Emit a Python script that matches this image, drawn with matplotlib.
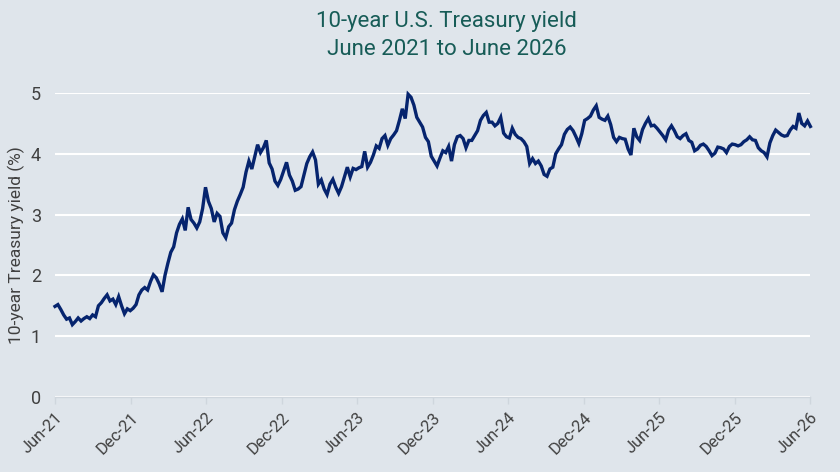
import pandas as pd
import matplotlib
matplotlib.use("Agg")
import matplotlib.pyplot as plt
import matplotlib.dates as mdates

# Weekly 10-year yield readings (%), starting 1 June 2021
start_date = "2021-06-01"
yields = [
    1.49, 1.52, 1.44, 1.35, 1.28, 1.30, 1.19, 1.24, 1.30, 1.25,
    1.29, 1.32, 1.29, 1.35, 1.32, 1.50, 1.55, 1.62, 1.68, 1.58,
    1.61, 1.52, 1.65, 1.50, 1.37, 1.45, 1.42, 1.46, 1.52, 1.68,
    1.76, 1.80, 1.76, 1.90, 2.01, 1.96, 1.86, 1.73, 2.00, 2.20,
    2.38, 2.47, 2.70, 2.84, 2.93, 2.74, 3.12, 2.92, 2.86, 2.78,
    2.88, 3.10, 3.45, 3.22, 3.10, 2.88, 3.02, 2.97, 2.70, 2.62,
    2.80, 2.86, 3.08, 3.22, 3.33, 3.45, 3.70, 3.88, 3.75, 3.95,
    4.15, 4.02, 4.10, 4.22, 3.85, 3.75, 3.55, 3.48, 3.58, 3.72,
    3.86, 3.65, 3.55, 3.40, 3.42, 3.46, 3.65, 3.84, 3.95, 4.03,
    3.90, 3.50, 3.57, 3.42, 3.33, 3.50, 3.58, 3.45, 3.35, 3.46,
    3.62, 3.78, 3.62, 3.76, 3.74, 3.77, 3.79, 4.04, 3.78, 3.86,
    3.98, 4.13, 4.09, 4.25, 4.30, 4.14, 4.25, 4.31, 4.38, 4.55,
    4.74, 4.58, 4.98, 4.93, 4.80, 4.60, 4.52, 4.44, 4.27, 4.20,
    3.96, 3.88, 3.80, 3.93, 4.05, 4.02, 4.12, 3.88, 4.15, 4.28,
    4.30, 4.25, 4.10, 4.22, 4.22, 4.30, 4.38, 4.55, 4.63, 4.68,
    4.52, 4.52, 4.46, 4.50, 4.60, 4.34, 4.28, 4.26, 4.42, 4.32,
    4.27, 4.25, 4.20, 4.12, 3.84, 3.92, 3.84, 3.88, 3.80, 3.66,
    3.63, 3.75, 3.78, 4.00, 4.08, 4.15, 4.32, 4.40, 4.44, 4.38,
    4.28, 4.17, 4.33, 4.55, 4.58, 4.62, 4.72, 4.79, 4.60, 4.57,
    4.55, 4.62, 4.48, 4.27, 4.20, 4.27, 4.25, 4.24, 4.08, 3.98,
    4.42, 4.28, 4.22, 4.40, 4.50, 4.58, 4.46, 4.47, 4.42, 4.36,
    4.30, 4.23, 4.39, 4.46, 4.38, 4.28, 4.25, 4.30, 4.33, 4.22,
    4.19, 4.05, 4.08, 4.14, 4.16, 4.12, 4.05, 3.97, 4.01, 4.11,
    4.10, 4.08, 4.02, 4.12, 4.16, 4.15, 4.13, 4.15, 4.20, 4.23,
    4.28, 4.23, 4.22, 4.10, 4.05, 4.02, 3.95, 4.18, 4.30, 4.39,
    4.35, 4.31, 4.29, 4.30, 4.39, 4.45, 4.42, 4.67, 4.50, 4.46,
    4.54, 4.45,
]
tick_dates = ["2021-06-01", "2021-12-01", "2022-06-01", "2022-12-01",
              "2023-06-01", "2023-12-01", "2024-06-01", "2024-12-01",
              "2025-06-01", "2025-12-01", "2026-06-01"]
tick_labels = ["Jun-21", "Dec-21", "Jun-22", "Dec-22", "Jun-23", "Dec-23",
               "Jun-24", "Dec-24", "Jun-25", "Dec-25", "Jun-26"]
y_ticks = [0, 1, 2, 3, 4, 5]

dates = pd.date_range(start_date, periods=len(yields), freq="7D")

bg = "#dfe5eb"
navy = "#06246e"
teal = "#175c57"
txt = "#404040"

plt.rcParams["font.family"] = ["Roboto", "DejaVu Sans"]

fig = plt.figure(figsize=(8.4, 4.72), dpi=100, facecolor=bg)
ax = fig.add_axes([55 / 840, 1 - 397 / 472, 755 / 840, 304 / 472])
ax.set_facecolor(bg)

ax.plot(dates, yields, color=navy, linewidth=2.4, solid_joinstyle="miter",
        clip_on=False, zorder=3)

ax.set_ylim(0, 5)
ax.set_yticks(y_ticks)
ax.set_yticklabels([str(v) for v in y_ticks])
ax.grid(axis="y", color="white", linewidth=1.5, zorder=0)
ax.set_axisbelow(True)

ax.set_xlim(pd.Timestamp(tick_dates[0]), pd.Timestamp(tick_dates[-1]))
ax.set_xticks([mdates.date2num(pd.Timestamp(d)) for d in tick_dates])
ax.set_xticklabels(tick_labels, rotation=45, ha="right", rotation_mode="anchor")

for s in ["top", "right", "left"]:
    ax.spines[s].set_visible(False)
ax.spines["bottom"].set_color("#cfd6dd")
ax.spines["bottom"].set_linewidth(1.0)

ax.tick_params(axis="y", length=0, pad=10, labelsize=13, labelcolor=txt)
ax.tick_params(axis="x", length=5, width=1.0, color="#cfd6dd", pad=4,
               labelsize=12, labelcolor=txt)

ax.set_ylabel("10-year Treasury yield (%)", fontsize=12.5, color=txt, labelpad=4)

fig.text(0.532, 0.955, "10-year U.S. Treasury yield", ha="center", va="center",
         fontsize=16, color=teal)
fig.text(0.532, 0.895, "June 2021 to June 2026", ha="center", va="center",
         fontsize=16, color=teal)

fig.savefig("out.png", dpi=100, facecolor=bg)
